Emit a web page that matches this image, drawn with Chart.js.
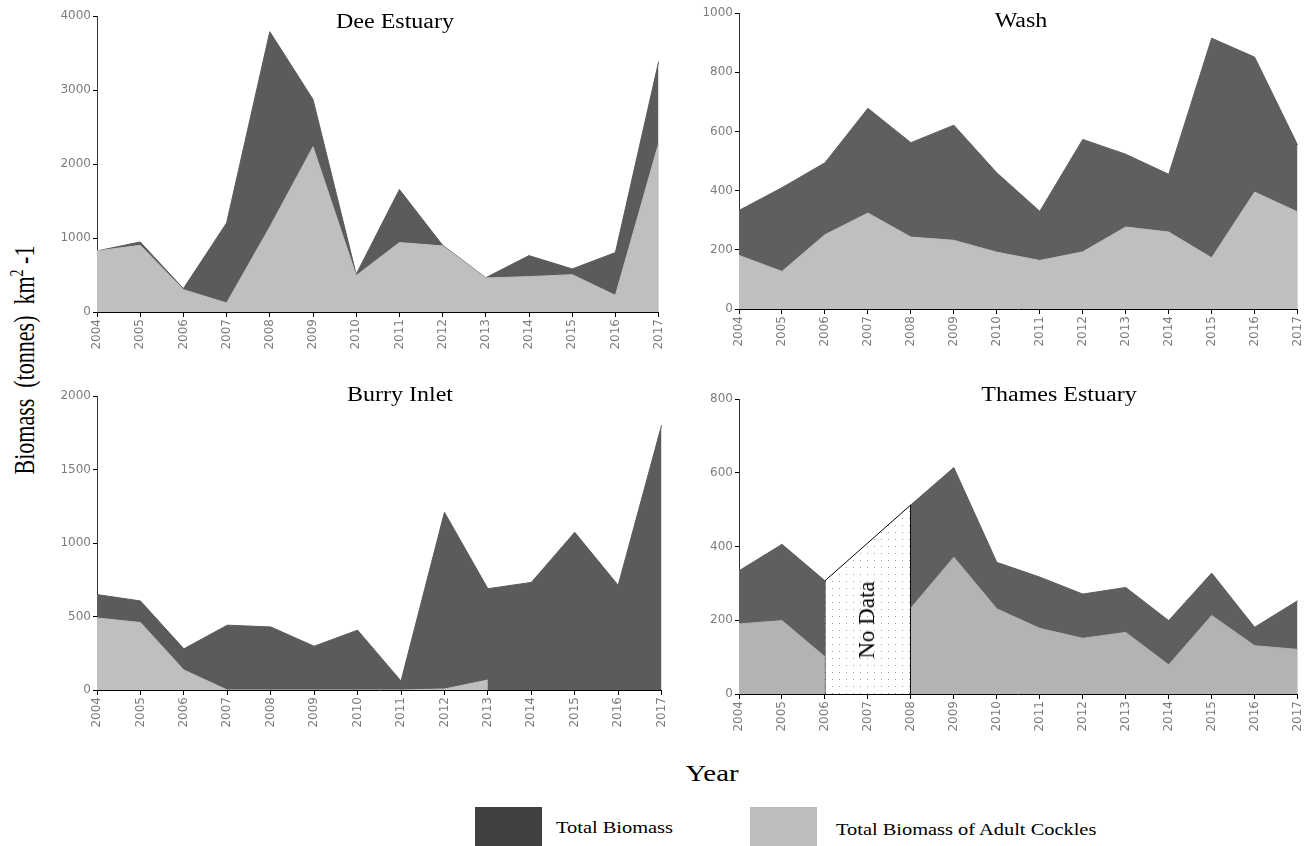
<!DOCTYPE html>
<html>
<head>
<meta charset="utf-8">
<script src="https://cdn.jsdelivr.net/npm/chart.js@4.4.1/dist/chart.umd.min.js"></script>
<style>
  body { margin: 0; background: #fff; width: 1314px; height: 846px; position: relative; overflow: hidden; }
  .box { position: absolute; }
  .txt { position: absolute; font-family: "Liberation Serif", serif; color: #000; white-space: nowrap; }
  .title { font-size: 20px; transform: translate(-50%, -50%) scaleX(1.2); }
  .sw { position: absolute; }
</style>
</head>
<body>

<div class="box" id="b1"><canvas id="dee"></canvas></div>
<div class="box" id="b2"><canvas id="wash"></canvas></div>
<div class="box" id="b3"><canvas id="burry"></canvas></div>
<div class="box" id="b4"><canvas id="thames"></canvas></div>

<div class="txt title" style="left:395px; top:21px;">Dee Estuary</div>
<div class="txt title" style="left:1021px; top:20px;">Wash</div>
<div class="txt title" style="left:400px; top:394px;">Burry Inlet</div>
<div class="txt title" style="left:1059px; top:394px;">Thames Estuary</div>

<div class="txt" style="left:867px; top:620px; font-size:23px; transform: translate(-50%, -50%) rotate(-90deg);">No Data</div>

<div class="txt" style="left:25px; top:360px; font-size:22px; transform: translate(-50%, -50%) rotate(-90deg) scaleY(1.3);">Biomass&nbsp; (tonnes)&nbsp; km<sup style="font-size:14px;">2</sup> -1</div>
<div class="txt" style="left:712px; top:773px; font-size:24px; transform: translate(-50%, -50%) scaleX(1.2);">Year</div>

<div class="sw" style="left:475px; top:807px; width:67px; height:39px; background:#404040;"></div>
<div class="txt" style="left:556px; top:828px; font-size:17px; transform: translateY(-50%) scaleX(1.2); transform-origin: left center;">Total Biomass</div>
<div class="sw" style="left:750px; top:807px; width:67px; height:39px; background:#bdbdbd;"></div>
<div class="txt" style="left:836px; top:830px; font-size:17px; transform: translateY(-50%) scaleX(1.2); transform-origin: left center;">Total Biomass of Adult Cockles</div>

<script>
// years on the x axis
const years = ['2004','2005','2006','2007','2008','2009','2010','2011','2012','2013','2014','2015','2016','2017'];

// Dee Estuary
const deeTotal = [825, 947, 316, 1204, 3788, 2873, 510, 1655, 902, 464, 762, 582, 803, 3382];
const deeAdult = [825, 902, 302, 122, 1150, 2232, 492, 938, 893, 460, 478, 505, 225, 2277];

// Wash
const washTotal = [333, 410, 494, 678, 562, 621, 460, 330, 573, 523, 455, 915, 851, 554];
const washAdult = [181, 127, 251, 324, 243, 232, 192, 164, 193, 277, 260, 173, 395, 328];

// Burry Inlet (no adult values after 2013)
const burryTotal = [649, 606, 280, 441, 429, 298, 407, 61, 1209, 689, 732, 1073, 712, 1801];
const burryAdult = [490, 459, 136, 0, 0, 0, 0, 0, 7, 68, null, null, null, null];

// Thames Estuary (2007 missing)
const thamesTotal = [334, 406, 307, null, 513, 614, 357, 317, 271, 289, 199, 328, 181, 253];
const thamesAdult = [190, 199, 101, null, 233, 371, 231, 178, 151, 167, 79, 213, 131, 121];
// outline of the "No Data" block
const thamesGap = [
  {x: '2006', y: 0}, {x: '2006', y: 307}, {x: '2007', y: 410}, {x: '2008', y: 513}, {x: '2008', y: 0}
];

const DARK = '#5b5b5b';
const LIGHT = '#bfbfbf';
const tickFont = { family: 'DejaVu Sans', size: 12 };
const tickColor = '#7c7c7c';
const yw = 50, xh = 45, padTop = 10, padRight = 14;

// dotted fill for the no-data block
function dotPattern() {
  const c = document.createElement('canvas');
  c.width = 7; c.height = 7;
  const g = c.getContext('2d');
  g.fillStyle = '#fff';
  g.fillRect(0, 0, 7, 7);
  g.fillStyle = '#9a9a9a';
  g.fillRect(3, 3, 1, 1);
  return g.createPattern(c, 'repeat');
}

function area(label, data, color, order) {
  return {
    label: label,
    data: data,
    backgroundColor: color,
    borderColor: color,
    borderWidth: 1,
    fill: 'origin',
    pointRadius: 0,
    tension: 0,
    order: order
  };
}

function makeChart(id, boxId, area_, max, step, datasets) {
  // area_ = chart area [left, top, right, bottom] in page px
  const box = document.getElementById(boxId);
  const left = area_[0] - yw, top = area_[1] - padTop;
  const w = area_[2] + padRight - left, h = area_[3] + xh - top;
  box.style.left = left + 'px';
  box.style.top = top + 'px';
  const cv = document.getElementById(id);
  cv.width = w; cv.height = h;
  cv.style.width = w + 'px'; cv.style.height = h + 'px';

  return new Chart(cv, {
    type: 'line',
    data: { labels: years, datasets: datasets },
    options: {
      responsive: false,
      animation: false,
      devicePixelRatio: 1,
      layout: { padding: { top: padTop, right: padRight, left: 0, bottom: 0 } },
      plugins: { legend: { display: false }, tooltip: { enabled: false } },
      scales: {
        x: {
          offset: false,
          grid: { drawOnChartArea: false, tickLength: 5, color: '#000' },
          border: { color: '#000', width: 1 },
          ticks: { minRotation: 90, maxRotation: 90, autoSkip: false, font: tickFont, color: tickColor, padding: 2 },
          afterFit: function(s) { s.height = xh; }
        },
        y: {
          min: 0,
          max: max,
          grid: { drawOnChartArea: false, tickLength: 4, color: '#000' },
          border: { color: '#333', width: 1 },
          ticks: { stepSize: step, font: tickFont, color: tickColor, padding: 2,
                   callback: function(v) { return String(v); } },
          afterFit: function(s) { s.width = yw; }
        }
      }
    }
  });
}

makeChart('dee', 'b1', [97, 16, 661, 312], 4000, 1000, [
  area('Total Biomass of Adult Cockles', deeAdult, LIGHT, 0),
  area('Total Biomass', deeTotal, DARK, 1)
]);

makeChart('wash', 'b2', [739, 13, 1300, 309], 1000, 200, [
  area('Total Biomass of Adult Cockles', washAdult, LIGHT, 0),
  area('Total Biomass', washTotal, '#5f5f5f', 1)
]);

makeChart('burry', 'b3', [97, 396, 664, 690], 2000, 500, [
  area('Total Biomass of Adult Cockles', burryAdult, LIGHT, 0),
  area('Total Biomass', burryTotal, DARK, 1)
]);

const gapSet = area('No Data', thamesGap, dotPattern(), 2);
gapSet.borderColor = '#000';
gapSet.borderWidth = 1;

makeChart('thames', 'b4', [739, 399, 1300, 694], 800, 200, [
  area('Total Biomass of Adult Cockles', thamesAdult, '#b3b3b3', 0),
  area('Total Biomass', thamesTotal, '#5f5f5f', 1),
  gapSet
]);
</script>
</body>
</html>
